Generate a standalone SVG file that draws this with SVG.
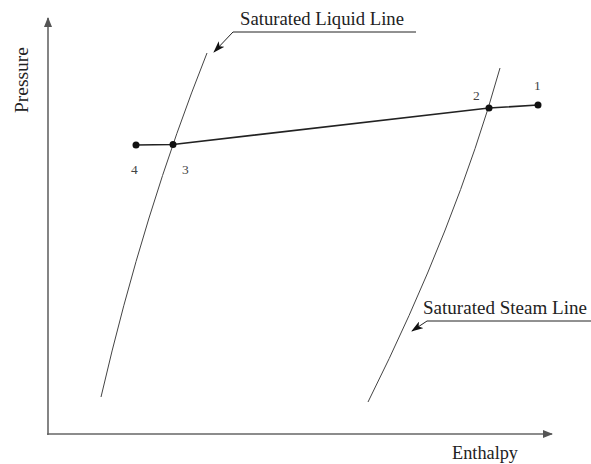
<svg xmlns="http://www.w3.org/2000/svg" width="591" height="464" viewBox="0 0 591 464">
<style>
text{font-family:"Liberation Serif","Times New Roman",serif;fill:#222}
.lbl{font-size:18.5px}
.num{font-size:13.5px;fill:#444}
.axis{stroke:#666;stroke-width:1.6;fill:none}
.sat{stroke:#444;stroke-width:1;fill:none}
.proc{stroke:#222;stroke-width:1.6;fill:none}
.lead{stroke:#222;stroke-width:1;fill:none}
.pt{fill:#111}
</style>
<defs>
<marker id="ax" markerWidth="10" markerHeight="8" refX="9" refY="4" orient="auto" markerUnits="userSpaceOnUse">
<path d="M0,0 L10,4 L0,8 Z" fill="#555"/>
</marker>
<marker id="ld" markerWidth="12" markerHeight="8" refX="11" refY="4" orient="auto" markerUnits="userSpaceOnUse">
<path d="M0,0 L12,4 L0,8 L3,4 Z" fill="#111"/>
</marker>
</defs>
<g id="axes">
<line class="axis" x1="48" y1="435" x2="48" y2="18" marker-end="url(#ax)"/>
<line class="axis" x1="47" y1="434" x2="552" y2="434" marker-end="url(#ax)"/>
<text class="lbl" transform="translate(28,113) rotate(-90)" textLength="66" lengthAdjust="spacingAndGlyphs">Pressure</text>
<text class="lbl" x="452" y="459" textLength="66" lengthAdjust="spacingAndGlyphs">Enthalpy</text>
</g>
<g id="saturated-liquid-line">
<path class="sat" d="M101,397 Q144,211 207,53"/>
<text class="lbl" x="240" y="25" textLength="164" lengthAdjust="spacingAndGlyphs">Saturated Liquid Line</text>
</g>
<g id="saturated-steam-line">
<path class="sat" d="M368,402 Q455.5,227 500,68"/>
<text class="lbl" x="423" y="314" textLength="164" lengthAdjust="spacingAndGlyphs">Saturated Steam Line</text>
</g>
<g id="connectors">
<polyline class="lead" points="416,32 233,32 214,52" marker-end="url(#ld)"/>
<polyline class="lead" points="591,321 427,321 412,331" marker-end="url(#ld)"/>
<polyline class="proc" points="136,145 173,144.5 489,108 538,105"/>
</g>
<g id="point-4"><circle class="pt" cx="136" cy="145" r="3.5"/><text class="num" x="131" y="174">4</text></g>
<g id="point-3"><circle class="pt" cx="173" cy="144.5" r="3.5"/><text class="num" x="182" y="174">3</text></g>
<g id="point-2"><circle class="pt" cx="489" cy="108" r="3.5"/><text class="num" x="473" y="100">2</text></g>
<g id="point-1"><circle class="pt" cx="538" cy="105" r="3.5"/><text class="num" x="534" y="90">1</text></g>
</svg>
